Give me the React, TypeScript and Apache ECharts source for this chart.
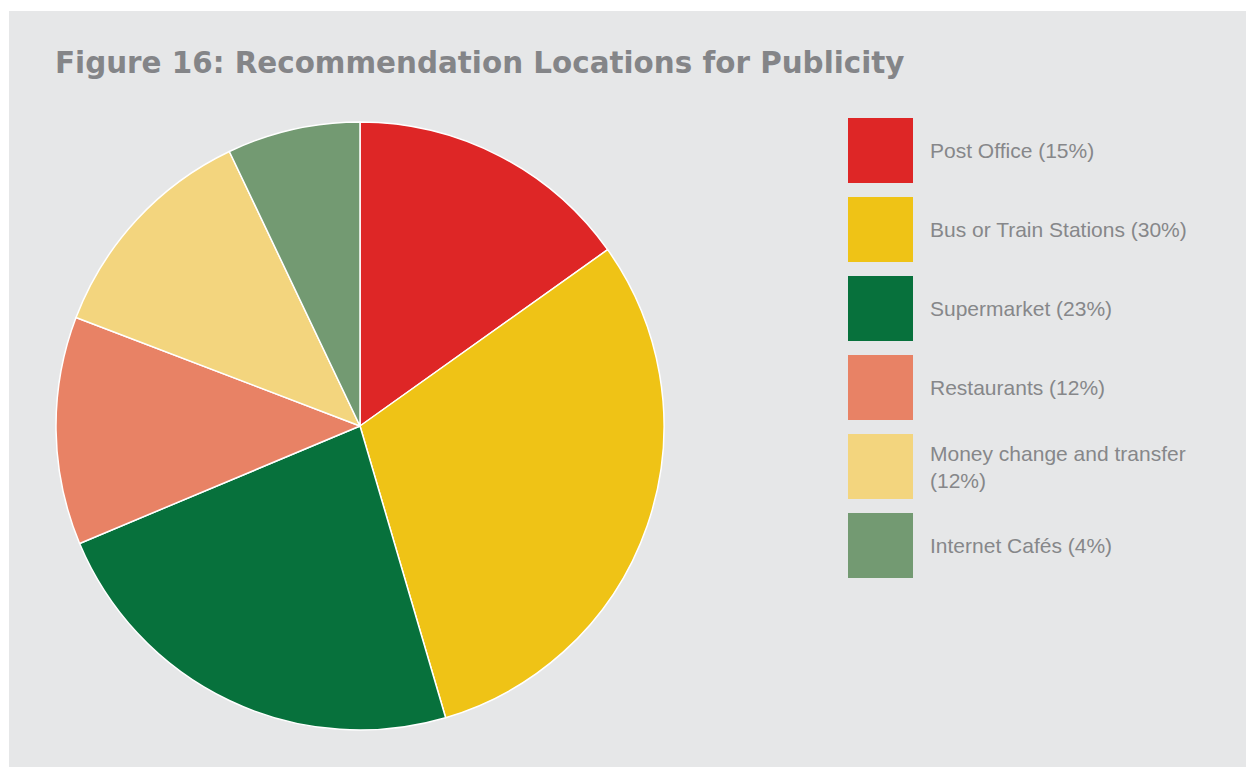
import React, { useEffect, useRef } from "react";
import * as echarts from "echarts";

const categories = [
  "Post Office (15%)",
  "Bus or Train Stations (30%)",
  "Supermarket (23%)",
  "Restaurants (12%)",
  "Money change and transfer\n(12%)",
  "Internet Cafés (4%)",
];
const values = [15, 30, 23, 12, 12, 7];
const colors = ["#de2626", "#efc316", "#07713c", "#e88265", "#f3d57e", "#739a72"];
const titleText = "Figure 16: Recommendation Locations for Publicity";

export default function App() {
  const ref = useRef<HTMLDivElement>(null);
  useEffect(() => {
    if (!ref.current) return;
    const chart = echarts.init(ref.current, undefined, { renderer: "svg" });
    chart.setOption({
      animation: false,
      graphic: [
        {
          type: "rect",
          z: -10,
          silent: true,
          shape: { x: 9, y: 11, width: 1237, height: 756 },
          style: { fill: "#e6e7e8" },
        },
        {
          type: "text",
          left: 55,
          top: 48,
          style: {
            text: titleText,
            font: "bold 29.4px 'DejaVu Sans', sans-serif",
            fill: "#848588",
          },
        },
      ],
      legend: {
        orient: "vertical",
        left: 848,
        top: 118,
        padding: 0,
        icon: "rect",
        itemWidth: 65,
        itemHeight: 65,
        itemGap: 14,
        itemStyle: { borderWidth: 0 },
        textStyle: {
          color: "#86878a",
          fontSize: 21,
          fontFamily: "'Liberation Sans', Arial, sans-serif",
          lineHeight: 27,
          padding: [0, 0, 6, 12],
        },
        data: categories,
      },
      series: [
        {
          type: "pie",
          center: [360, 426],
          radius: 304,
          startAngle: 90,
          clockwise: true,
          label: { show: false },
          labelLine: { show: false },
          itemStyle: { borderColor: "#ffffff", borderWidth: 1.5 },
          emphasis: { disabled: true },
          data: categories.map((name, i) => ({
            name,
            value: values[i],
            itemStyle: { color: colors[i] },
          })),
        },
      ],
    });
    return () => chart.dispose();
  }, []);
  return (
    <div
      ref={ref}
      style={{ position: "fixed", left: 0, top: 0, width: 1246, height: 767, background: "#ffffff" }}
    />
  );
}
